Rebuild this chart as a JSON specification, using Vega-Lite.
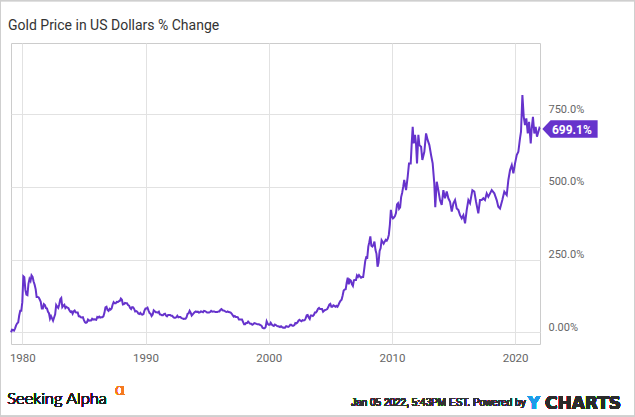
{
  "$schema": "https://vega.github.io/schema/vega-lite/v6.json",
  "width": 529,
  "height": 301,
  "autosize": "none",
  "padding": {"left": 11, "top": 43, "right": 95, "bottom": 73},
  "background": "white",
  "title": {"text": "Gold Price in US Dollars % Change", "anchor": "start", "frame": "group", "offset": -44, "baseline": "alphabetic", "dx": -3, "font": "Roboto", "fontSize": 14, "fontWeight": "normal", "color": "#333333"},
  "config": {
    "view": {"stroke": "#cccccc", "strokeWidth": 1},
    "axis": {"grid": true, "gridColor": "#e2e2e2", "ticks": false, "domain": false, "labelFont": "Roboto", "labelFontSize": 11, "labelColor": "#666666", "title": null}
  },
  "data": {"values": [
    {"date": "1979-02-01", "value": 0}, {"date": "1979-03-01", "value": 9}, {"date": "1979-04-01", "value": 8}, {"date": "1979-05-01", "value": 6}, {"date": "1979-06-01", "value": 14}, {"date": "1979-07-01", "value": 24}, {"date": "1979-08-01", "value": 31}, {"date": "1979-09-01", "value": 34}, {"date": "1979-10-01", "value": 58}, {"date": "1979-11-01", "value": 74}, {"date": "1979-12-01", "value": 74}, {"date": "1980-01-01", "value": 103},
    {"date": "1980-02-01", "value": 193}, {"date": "1980-03-01", "value": 190}, {"date": "1980-04-01", "value": 146}, {"date": "1980-05-01", "value": 130}, {"date": "1980-06-01", "value": 128}, {"date": "1980-07-01", "value": 167}, {"date": "1980-08-01", "value": 184}, {"date": "1980-09-01", "value": 177}, {"date": "1980-10-01", "value": 196}, {"date": "1980-11-01", "value": 191}, {"date": "1980-12-01", "value": 175}, {"date": "1981-01-01", "value": 164},
    {"date": "1981-02-01", "value": 148}, {"date": "1981-03-01", "value": 122}, {"date": "1981-04-01", "value": 122}, {"date": "1981-05-01", "value": 120}, {"date": "1981-06-01", "value": 113}, {"date": "1981-07-01", "value": 105}, {"date": "1981-08-01", "value": 82}, {"date": "1981-09-01", "value": 82}, {"date": "1981-10-01", "value": 97}, {"date": "1981-11-01", "value": 94}, {"date": "1981-12-01", "value": 84}, {"date": "1982-01-01", "value": 82},
    {"date": "1982-02-01", "value": 71}, {"date": "1982-03-01", "value": 66}, {"date": "1982-04-01", "value": 47}, {"date": "1982-05-01", "value": 56}, {"date": "1982-06-01", "value": 48}, {"date": "1982-07-01", "value": 40}, {"date": "1982-08-01", "value": 51}, {"date": "1982-09-01", "value": 62}, {"date": "1982-10-01", "value": 94}, {"date": "1982-11-01", "value": 88}, {"date": "1982-12-01", "value": 84}, {"date": "1983-01-01", "value": 97},
    {"date": "1983-02-01", "value": 114}, {"date": "1983-03-01", "value": 118}, {"date": "1983-04-01", "value": 87}, {"date": "1983-05-01", "value": 92}, {"date": "1983-06-01", "value": 95}, {"date": "1983-07-01", "value": 84}, {"date": "1983-08-01", "value": 88}, {"date": "1983-09-01", "value": 85}, {"date": "1983-10-01", "value": 83}, {"date": "1983-11-01", "value": 75}, {"date": "1983-12-01", "value": 70}, {"date": "1984-01-01", "value": 72},
    {"date": "1984-02-01", "value": 64}, {"date": "1984-03-01", "value": 72}, {"date": "1984-04-01", "value": 75}, {"date": "1984-05-01", "value": 69}, {"date": "1984-06-01", "value": 68}, {"date": "1984-07-01", "value": 68}, {"date": "1984-08-01", "value": 55}, {"date": "1984-09-01", "value": 55}, {"date": "1984-10-01", "value": 52}, {"date": "1984-11-01", "value": 51}, {"date": "1984-12-01", "value": 52}, {"date": "1985-01-01", "value": 42},
    {"date": "1985-02-01", "value": 35}, {"date": "1985-03-01", "value": 33}, {"date": "1985-04-01", "value": 35}, {"date": "1985-05-01", "value": 44}, {"date": "1985-06-01", "value": 40}, {"date": "1985-07-01", "value": 41}, {"date": "1985-08-01", "value": 41}, {"date": "1985-09-01", "value": 47}, {"date": "1985-10-01", "value": 44}, {"date": "1985-11-01", "value": 45}, {"date": "1985-12-01", "value": 44}, {"date": "1986-01-01", "value": 43},
    {"date": "1986-02-01", "value": 53}, {"date": "1986-03-01", "value": 51}, {"date": "1986-04-01", "value": 54}, {"date": "1986-05-01", "value": 51}, {"date": "1986-06-01", "value": 52}, {"date": "1986-07-01", "value": 52}, {"date": "1986-08-01", "value": 55}, {"date": "1986-09-01", "value": 67}, {"date": "1986-10-01", "value": 86}, {"date": "1986-11-01", "value": 88}, {"date": "1986-12-01", "value": 77}, {"date": "1987-01-01", "value": 74},
    {"date": "1987-02-01", "value": 81}, {"date": "1987-03-01", "value": 78}, {"date": "1987-04-01", "value": 82}, {"date": "1987-05-01", "value": 95}, {"date": "1987-06-01", "value": 104}, {"date": "1987-07-01", "value": 100}, {"date": "1987-08-01", "value": 100}, {"date": "1987-09-01", "value": 105}, {"date": "1987-10-01", "value": 104}, {"date": "1987-11-01", "value": 107}, {"date": "1987-12-01", "value": 108}, {"date": "1988-01-01", "value": 116},
    {"date": "1988-02-01", "value": 112}, {"date": "1988-03-01", "value": 96}, {"date": "1988-04-01", "value": 97}, {"date": "1988-05-01", "value": 101}, {"date": "1988-06-01", "value": 100}, {"date": "1988-07-01", "value": 100}, {"date": "1988-08-01", "value": 94}, {"date": "1988-09-01", "value": 92}, {"date": "1988-10-01", "value": 84}, {"date": "1988-11-01", "value": 80}, {"date": "1988-12-01", "value": 87}, {"date": "1989-01-01", "value": 86},
    {"date": "1989-02-01", "value": 80}, {"date": "1989-03-01", "value": 72}, {"date": "1989-04-01", "value": 73}, {"date": "1989-05-01", "value": 71}, {"date": "1989-06-01", "value": 65}, {"date": "1989-07-01", "value": 63}, {"date": "1989-08-01", "value": 67}, {"date": "1989-09-01", "value": 62}, {"date": "1989-10-01", "value": 61}, {"date": "1989-11-01", "value": 63}, {"date": "1989-12-01", "value": 75}, {"date": "1990-01-01", "value": 82},
    {"date": "1990-02-01", "value": 82}, {"date": "1990-03-01", "value": 85}, {"date": "1990-04-01", "value": 75}, {"date": "1990-05-01", "value": 66}, {"date": "1990-06-01", "value": 64}, {"date": "1990-07-01", "value": 56}, {"date": "1990-08-01", "value": 61}, {"date": "1990-09-01", "value": 76}, {"date": "1990-10-01", "value": 73}, {"date": "1990-11-01", "value": 69}, {"date": "1990-12-01", "value": 69}, {"date": "1991-01-01", "value": 68},
    {"date": "1991-02-01", "value": 71}, {"date": "1991-03-01", "value": 62}, {"date": "1991-04-01", "value": 61}, {"date": "1991-05-01", "value": 59}, {"date": "1991-06-01", "value": 59}, {"date": "1991-07-01", "value": 63}, {"date": "1991-08-01", "value": 64}, {"date": "1991-09-01", "value": 58}, {"date": "1991-10-01", "value": 55}, {"date": "1991-11-01", "value": 60}, {"date": "1991-12-01", "value": 60}, {"date": "1992-01-01", "value": 60},
    {"date": "1992-02-01", "value": 57}, {"date": "1992-03-01", "value": 57}, {"date": "1992-04-01", "value": 53}, {"date": "1992-05-01", "value": 50}, {"date": "1992-06-01", "value": 50}, {"date": "1992-07-01", "value": 52}, {"date": "1992-08-01", "value": 57}, {"date": "1992-09-01", "value": 52}, {"date": "1992-10-01", "value": 53}, {"date": "1992-11-01", "value": 53}, {"date": "1992-12-01", "value": 49}, {"date": "1993-01-01", "value": 48},
    {"date": "1993-02-01", "value": 46}, {"date": "1993-03-01", "value": 47}, {"date": "1993-04-01", "value": 47}, {"date": "1993-05-01", "value": 52}, {"date": "1993-06-01", "value": 64}, {"date": "1993-07-01", "value": 65}, {"date": "1993-08-01", "value": 74}, {"date": "1993-09-01", "value": 68}, {"date": "1993-10-01", "value": 58}, {"date": "1993-11-01", "value": 62}, {"date": "1993-12-01", "value": 66}, {"date": "1994-01-01", "value": 70},
    {"date": "1994-02-01", "value": 72}, {"date": "1994-03-01", "value": 70}, {"date": "1994-04-01", "value": 71}, {"date": "1994-05-01", "value": 68}, {"date": "1994-06-01", "value": 69}, {"date": "1994-07-01", "value": 72}, {"date": "1994-08-01", "value": 71}, {"date": "1994-09-01", "value": 69}, {"date": "1994-10-01", "value": 74}, {"date": "1994-11-01", "value": 73}, {"date": "1994-12-01", "value": 71}, {"date": "1995-01-01", "value": 68},
    {"date": "1995-02-01", "value": 68}, {"date": "1995-03-01", "value": 68}, {"date": "1995-04-01", "value": 70}, {"date": "1995-05-01", "value": 74}, {"date": "1995-06-01", "value": 71}, {"date": "1995-07-01", "value": 72}, {"date": "1995-08-01", "value": 72}, {"date": "1995-09-01", "value": 70}, {"date": "1995-10-01", "value": 70}, {"date": "1995-11-01", "value": 70}, {"date": "1995-12-01", "value": 72}, {"date": "1996-01-01", "value": 72},
    {"date": "1996-02-01", "value": 78}, {"date": "1996-03-01", "value": 80}, {"date": "1996-04-01", "value": 76}, {"date": "1996-05-01", "value": 75}, {"date": "1996-06-01", "value": 74}, {"date": "1996-07-01", "value": 71}, {"date": "1996-08-01", "value": 70}, {"date": "1996-09-01", "value": 72}, {"date": "1996-10-01", "value": 70}, {"date": "1996-11-01", "value": 69}, {"date": "1996-12-01", "value": 68}, {"date": "1997-01-01", "value": 64},
    {"date": "1997-02-01", "value": 58}, {"date": "1997-03-01", "value": 54}, {"date": "1997-04-01", "value": 56}, {"date": "1997-05-01", "value": 53}, {"date": "1997-06-01", "value": 53}, {"date": "1997-07-01", "value": 52}, {"date": "1997-08-01", "value": 44}, {"date": "1997-09-01", "value": 44}, {"date": "1997-10-01", "value": 44}, {"date": "1997-11-01", "value": 44}, {"date": "1997-12-01", "value": 36}, {"date": "1998-01-01", "value": 28},
    {"date": "1998-02-01", "value": 28}, {"date": "1998-03-01", "value": 32}, {"date": "1998-04-01", "value": 32}, {"date": "1998-05-01", "value": 37}, {"date": "1998-06-01", "value": 33}, {"date": "1998-07-01", "value": 30}, {"date": "1998-08-01", "value": 30}, {"date": "1998-09-01", "value": 26}, {"date": "1998-10-01", "value": 28}, {"date": "1998-11-01", "value": 32}, {"date": "1998-12-01", "value": 31}, {"date": "1999-01-01", "value": 29},
    {"date": "1999-02-01", "value": 28}, {"date": "1999-03-01", "value": 28}, {"date": "1999-04-01", "value": 27}, {"date": "1999-05-01", "value": 25}, {"date": "1999-06-01", "value": 23}, {"date": "1999-07-01", "value": 16}, {"date": "1999-08-01", "value": 14}, {"date": "1999-09-01", "value": 14}, {"date": "1999-10-01", "value": 18}, {"date": "1999-11-01", "value": 38}, {"date": "1999-12-01", "value": 30}, {"date": "2000-01-01", "value": 26},
    {"date": "2000-02-01", "value": 26}, {"date": "2000-03-01", "value": 33}, {"date": "2000-04-01", "value": 27}, {"date": "2000-05-01", "value": 24}, {"date": "2000-06-01", "value": 22}, {"date": "2000-07-01", "value": 27}, {"date": "2000-08-01", "value": 25}, {"date": "2000-09-01", "value": 22}, {"date": "2000-10-01", "value": 21}, {"date": "2000-11-01", "value": 20}, {"date": "2000-12-01", "value": 18}, {"date": "2001-01-01", "value": 21},
    {"date": "2001-02-01", "value": 18}, {"date": "2001-03-01", "value": 16}, {"date": "2001-04-01", "value": 17}, {"date": "2001-05-01", "value": 16}, {"date": "2001-06-01", "value": 21}, {"date": "2001-07-01", "value": 20}, {"date": "2001-08-01", "value": 19}, {"date": "2001-09-01", "value": 21}, {"date": "2001-10-01", "value": 26}, {"date": "2001-11-01", "value": 26}, {"date": "2001-12-01", "value": 23}, {"date": "2002-01-01", "value": 23},
    {"date": "2002-02-01", "value": 25}, {"date": "2002-03-01", "value": 32}, {"date": "2002-04-01", "value": 31}, {"date": "2002-05-01", "value": 34}, {"date": "2002-06-01", "value": 40}, {"date": "2002-07-01", "value": 43}, {"date": "2002-08-01", "value": 40}, {"date": "2002-09-01", "value": 38}, {"date": "2002-10-01", "value": 42}, {"date": "2002-11-01", "value": 41}, {"date": "2002-12-01", "value": 42}, {"date": "2003-01-01", "value": 48},
    {"date": "2003-02-01", "value": 59}, {"date": "2003-03-01", "value": 60}, {"date": "2003-04-01", "value": 51}, {"date": "2003-05-01", "value": 46}, {"date": "2003-06-01", "value": 58}, {"date": "2003-07-01", "value": 58}, {"date": "2003-08-01", "value": 56}, {"date": "2003-09-01", "value": 60}, {"date": "2003-10-01", "value": 68}, {"date": "2003-11-01", "value": 68}, {"date": "2003-12-01", "value": 73}, {"date": "2004-01-01", "value": 81},
    {"date": "2004-02-01", "value": 84}, {"date": "2004-03-01", "value": 80}, {"date": "2004-04-01", "value": 80}, {"date": "2004-05-01", "value": 80}, {"date": "2004-06-01", "value": 71}, {"date": "2004-07-01", "value": 74}, {"date": "2004-08-01", "value": 77}, {"date": "2004-09-01", "value": 78}, {"date": "2004-10-01", "value": 80}, {"date": "2004-11-01", "value": 87}, {"date": "2004-12-01", "value": 95}, {"date": "2005-01-01", "value": 98},
    {"date": "2005-02-01", "value": 88}, {"date": "2005-03-01", "value": 88}, {"date": "2005-04-01", "value": 93}, {"date": "2005-05-01", "value": 91}, {"date": "2005-06-01", "value": 88}, {"date": "2005-07-01", "value": 91}, {"date": "2005-08-01", "value": 88}, {"date": "2005-09-01", "value": 95}, {"date": "2005-10-01", "value": 103}, {"date": "2005-11-01", "value": 109}, {"date": "2005-12-01", "value": 112}, {"date": "2006-01-01", "value": 127},
    {"date": "2006-02-01", "value": 144}, {"date": "2006-03-01", "value": 147}, {"date": "2006-04-01", "value": 148}, {"date": "2006-05-01", "value": 171}, {"date": "2006-06-01", "value": 188}, {"date": "2006-07-01", "value": 165}, {"date": "2006-08-01", "value": 181}, {"date": "2006-09-01", "value": 178}, {"date": "2006-10-01", "value": 166}, {"date": "2006-11-01", "value": 160}, {"date": "2006-12-01", "value": 179}, {"date": "2007-01-01", "value": 180},
    {"date": "2007-02-01", "value": 180}, {"date": "2007-03-01", "value": 196}, {"date": "2007-04-01", "value": 191}, {"date": "2007-05-01", "value": 197}, {"date": "2007-06-01", "value": 192}, {"date": "2007-07-01", "value": 188}, {"date": "2007-08-01", "value": 190}, {"date": "2007-09-01", "value": 190}, {"date": "2007-10-01", "value": 216}, {"date": "2007-11-01", "value": 245}, {"date": "2007-12-01", "value": 258}, {"date": "2008-01-01", "value": 257},
    {"date": "2008-02-01", "value": 295}, {"date": "2008-03-01", "value": 310}, {"date": "2008-04-01", "value": 330}, {"date": "2008-05-01", "value": 298}, {"date": "2008-06-01", "value": 295}, {"date": "2008-07-01", "value": 300}, {"date": "2008-08-01", "value": 312}, {"date": "2008-09-01", "value": 283}, {"date": "2008-10-01", "value": 270}, {"date": "2008-11-01", "value": 226}, {"date": "2008-12-01", "value": 240}, {"date": "2009-01-01", "value": 280},
    {"date": "2009-02-01", "value": 290}, {"date": "2009-03-01", "value": 317}, {"date": "2009-04-01", "value": 311}, {"date": "2009-05-01", "value": 305}, {"date": "2009-06-01", "value": 312}, {"date": "2009-07-01", "value": 318}, {"date": "2009-08-01", "value": 315}, {"date": "2009-09-01", "value": 322}, {"date": "2009-10-01", "value": 335}, {"date": "2009-11-01", "value": 370}, {"date": "2009-12-01", "value": 421}, {"date": "2010-01-01", "value": 398},
    {"date": "2010-02-01", "value": 392}, {"date": "2010-03-01", "value": 395}, {"date": "2010-04-01", "value": 400}, {"date": "2010-05-01", "value": 410}, {"date": "2010-06-01", "value": 440}, {"date": "2010-07-01", "value": 444}, {"date": "2010-08-01", "value": 425}, {"date": "2010-09-01", "value": 430}, {"date": "2010-10-01", "value": 465}, {"date": "2010-11-01", "value": 480}, {"date": "2010-12-01", "value": 500}, {"date": "2011-01-01", "value": 524},
    {"date": "2011-02-24", "value": 489}, {"date": "2011-04-13", "value": 535}, {"date": "2011-05-22", "value": 581}, {"date": "2011-07-12", "value": 581}, {"date": "2011-08-11", "value": 650}, {"date": "2011-09-09", "value": 707}, {"date": "2011-10-08", "value": 650}, {"date": "2011-11-16", "value": 679}, {"date": "2011-12-16", "value": 650},
    {"date": "2012-01-15", "value": 581}, {"date": "2012-02-24", "value": 679}, {"date": "2012-03-25", "value": 644}, {"date": "2012-05-15", "value": 638}, {"date": "2012-06-21", "value": 593}, {"date": "2012-08-19", "value": 621}, {"date": "2012-10-09", "value": 684}, {"date": "2012-11-27", "value": 661},
    {"date": "2013-01-15", "value": 644}, {"date": "2013-03-06", "value": 610}, {"date": "2013-04-23", "value": 581}, {"date": "2013-06-10", "value": 512}, {"date": "2013-07-09", "value": 430}, {"date": "2013-08-22", "value": 518}, {"date": "2013-10-08", "value": 489}, {"date": "2013-11-26", "value": 455},
    {"date": "2014-01-16", "value": 438}, {"date": "2014-03-06", "value": 489}, {"date": "2014-04-23", "value": 461}, {"date": "2014-06-14", "value": 484}, {"date": "2014-08-01", "value": 461}, {"date": "2014-09-20", "value": 449}, {"date": "2014-11-10", "value": 415}, {"date": "2014-12-28", "value": 444},
    {"date": "2015-02-15", "value": 455}, {"date": "2015-04-06", "value": 426}, {"date": "2015-05-24", "value": 421}, {"date": "2015-07-13", "value": 403}, {"date": "2015-09-01", "value": 392}, {"date": "2015-10-20", "value": 403}, {"date": "2015-12-09", "value": 375},
    {"date": "2016-01-28", "value": 421}, {"date": "2016-03-16", "value": 455}, {"date": "2016-05-05", "value": 444}, {"date": "2016-07-13", "value": 489}, {"date": "2016-09-09", "value": 484}, {"date": "2016-10-30", "value": 449},
    {"date": "2017-01-05", "value": 409}, {"date": "2017-02-24", "value": 455}, {"date": "2017-04-16", "value": 455}, {"date": "2017-06-03", "value": 461}, {"date": "2017-07-22", "value": 455}, {"date": "2017-09-11", "value": 478}, {"date": "2017-10-30", "value": 466},
    {"date": "2018-02-07", "value": 489}, {"date": "2018-04-25", "value": 478}, {"date": "2018-07-04", "value": 455}, {"date": "2018-08-21", "value": 432}, {"date": "2018-10-11", "value": 426}, {"date": "2018-12-18", "value": 455},
    {"date": "2019-02-15", "value": 484}, {"date": "2019-04-28", "value": 472}, {"date": "2019-06-15", "value": 524}, {"date": "2019-08-04", "value": 558}, {"date": "2019-09-24", "value": 575}, {"date": "2019-11-10", "value": 547}, {"date": "2019-12-30", "value": 581},
    {"date": "2020-02-18", "value": 610}, {"date": "2020-04-06", "value": 621}, {"date": "2020-05-25", "value": 667}, {"date": "2020-06-24", "value": 690}, {"date": "2020-08-04", "value": 816}, {"date": "2020-09-13", "value": 741}, {"date": "2020-10-20", "value": 713}, {"date": "2020-11-29", "value": 736},
    {"date": "2021-01-10", "value": 684}, {"date": "2021-02-18", "value": 724}, {"date": "2021-04-08", "value": 650}, {"date": "2021-05-08", "value": 702}, {"date": "2021-06-13", "value": 741}, {"date": "2021-07-24", "value": 684}, {"date": "2021-09-02", "value": 707}, {"date": "2021-10-11", "value": 673}, {"date": "2021-11-21", "value": 690}, {"date": "2021-12-20", "value": 702},
    {"date": "2022-01-05", "value": 699.1}
  ]},
  "layer": [
    {
      "mark": {"type": "line", "color": "#6633cc", "strokeWidth": 2, "clip": false},
      "encoding": {
        "x": {"field": "date", "type": "temporal", "title": null,
          "scale": {"domain": [{"year": 1979, "month": 1, "date": 31, "utc": true}, {"year": 2022, "month": 1, "date": 8, "utc": true}]},
          "axis": {"values": [{"year": 1980, "month": 1, "date": 1, "utc": true}, {"year": 1990, "month": 1, "date": 1, "utc": true}, {"year": 2000, "month": 1, "date": 1, "utc": true}, {"year": 2010, "month": 1, "date": 1, "utc": true}, {"year": 2020, "month": 1, "date": 1, "utc": true}],
            "format": "%Y", "labelPadding": 8, "labelFlush": false, "labelFontSize": 11.5}},
        "y": {"field": "value", "type": "quantitative", "title": null,
          "scale": {"domain": [-40, 995], "nice": false, "zero": false},
          "axis": {"orient": "right", "values": [0, 250, 500, 750], "labelExpr": "datum.value == 0 ? '0.00%' : format(datum.value, '.1f') + '%'", "labelPadding": 8, "labelAlign": "left", "labelBaseline": "bottom"}}
      }
    },
    {
      "transform": [{"filter": "datum.value == 699.1"}],
      "mark": {"type": "point", "shape": "M 0.24 0 L 1.07 -0.88 L 5.77 -0.88 L 5.77 0.88 L 1.07 0.88 Z", "size": 400, "filled": true, "color": "#6633cc", "opacity": 1, "strokeWidth": 0, "clip": false},
      "encoding": {"x": {"field": "date", "type": "temporal", "title": null}, "y": {"field": "value", "type": "quantitative", "title": null}}
    },
    {
      "transform": [{"filter": "datum.value == 699.1"}],
      "mark": {"type": "text", "text": "699.1%", "align": "left", "baseline": "middle", "dx": 12, "dy": 0.5, "font": "Roboto", "fontSize": 12, "fontWeight": "bold", "color": "white", "clip": false},
      "encoding": {"x": {"field": "date", "type": "temporal", "title": null}, "y": {"field": "value", "type": "quantitative", "title": null}}
    },
    {
      "mark": {"type": "text", "text": "Seeking Alpha", "align": "left", "baseline": "alphabetic", "font": "Lato", "fontSize": 16.5, "fontWeight": 300, "color": "#222222", "clip": false},
      "encoding": {"x": {"datum": {"year": 1978, "month": 10, "date": 14, "utc": true}, "type": "temporal", "title": null}, "y": {"datum": -247, "type": "quantitative", "title": null}}
    },
    {
      "mark": {"type": "text", "text": "α", "align": "left", "baseline": "alphabetic", "font": "Noto Sans", "fontSize": 16, "fontWeight": 300, "color": "#f47a20", "clip": false},
      "encoding": {"x": {"datum": {"year": 1987, "month": 7, "date": 13, "utc": true}, "type": "temporal", "title": null}, "y": {"datum": -215, "type": "quantitative", "title": null}}
    },
    {
      "mark": {"type": "text", "text": "Jan 05 2022, 5:43PM EST.  Powered by", "align": "right", "baseline": "alphabetic", "font": "Liberation Sans", "fontSize": 10, "color": "#333333", "clip": false},
      "encoding": {"x": {"datum": {"year": 2020, "month": 11, "date": 10, "utc": true}, "type": "temporal", "title": null}, "y": {"datum": -252, "type": "quantitative", "title": null}}
    },
    {
      "mark": {"type": "text", "text": "Y", "align": "left", "baseline": "alphabetic", "font": "DejaVu Sans", "fontSize": 17, "fontWeight": "bold", "color": "#1e9be9", "clip": false},
      "encoding": {"x": {"datum": {"year": 2021, "month": 1, "date": 8, "utc": true}, "type": "temporal", "title": null}, "y": {"datum": -264, "type": "quantitative", "title": null}}
    },
    {
      "mark": {"type": "text", "text": "CHARTS", "align": "center", "baseline": "alphabetic", "font": "DejaVu Sans", "fontSize": 17, "fontWeight": "bold", "color": "#2b2b2b", "clip": false},
      "encoding": {"x": {"datum": {"year": 2025, "month": 7, "date": 6, "utc": true}, "type": "temporal", "title": null}, "y": {"datum": -264, "type": "quantitative", "title": null}}
    },
    {
      "mark": {"type": "rect", "filled": false, "stroke": "#cfcfcf", "strokeWidth": 1, "clip": false},
      "encoding": {"x": {"datum": {"year": 1978, "month": 3, "date": 25, "utc": true}, "type": "temporal", "title": null}, "x2": {"datum": {"year": 2029, "month": 9, "date": 11, "utc": true}}, "y": {"datum": 1141, "type": "quantitative", "title": null}, "y2": {"datum": -289}}
    }
  ]
}
